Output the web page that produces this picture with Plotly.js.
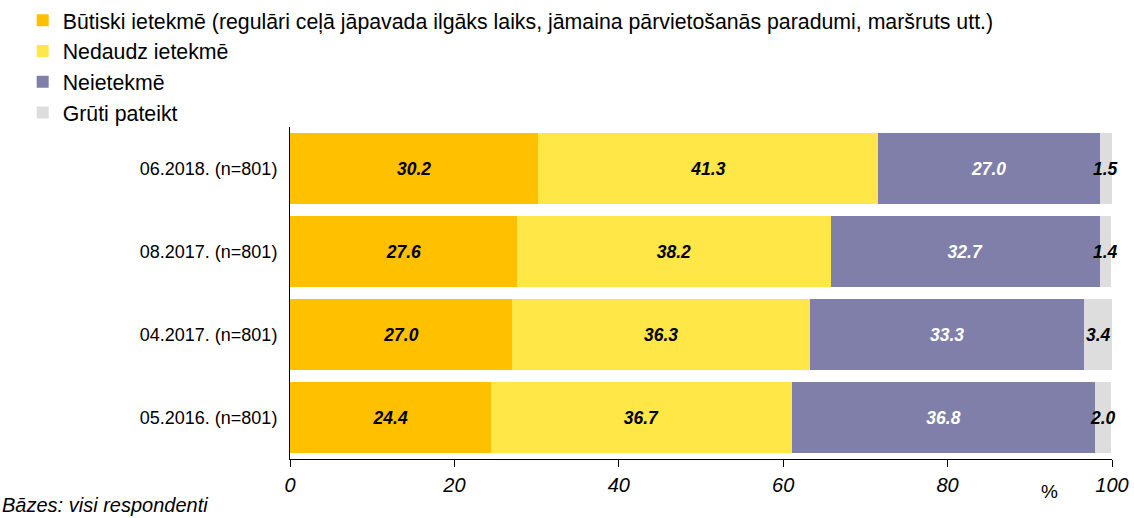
<!DOCTYPE html>
<html>
<head>
<meta charset="utf-8">
<script src="https://cdn.plot.ly/plotly-3.0.1.min.js"></script>
<style>html,body{margin:0;padding:0;background:#fff;}#chart{width:1134px;height:518px;}</style>
</head>
<body>
<div id="chart"></div>
<script>
const categories = ["06.2018. (n=801)", "08.2017. (n=801)", "04.2017. (n=801)", "05.2016. (n=801)"];
const seriesNames = ["Būtiski ietekmē (regulāri ceļā jāpavada ilgāks laiks, jāmaina pārvietošanās paradumi, maršruts utt.)", "Nedaudz ietekmē", "Neietekmē", "Grūti pateikt"];
const butiski = [30.2, 27.6, 27.0, 24.4];
const nedaudz = [41.3, 38.2, 36.3, 36.7];
const neietekme = [27.0, 32.7, 33.3, 36.8];
const gruti = [1.5, 1.4, 3.4, 2.0];
const xTicks = [0, 20, 40, 60, 80, 100];

const colors = ["#FFC000", "#FFE747", "#7F7FA9", "#DDDDDD"];
const textColors = ["#000000", "#000000", "#FFFFFF", "#000000"];
const allSeries = [butiski, nedaudz, neietekme, gruti];
const font = "Liberation Sans, Arial, sans-serif";

const traces = allSeries.map((vals, i) => ({
  type: "bar",
  orientation: "h",
  name: seriesNames[i],
  y: categories,
  x: vals,
  legendgroup: "g" + i,
  marker: {color: colors[i], line: {width: 0}},
  text: i < 3 ? vals.map(v => "<b><i>" + v.toFixed(1) + "</i></b>") : undefined,
  texttemplate: i < 3 ? "%{text}" : undefined,
  textposition: i < 3 ? "inside" : "none",
  insidetextanchor: "middle",
  constraintext: "none",
  textfont: {family: font, size: 17.5, color: textColors[i]},
  hoverinfo: "skip"
}));

const pw = 1134 - 290 - 22, ph = 518 - 127 - 59;
const annotations = categories.map((c, j) => {
  const start = butiski[j] + nedaudz[j] + neietekme[j];
  return {
    x: start + gruti[j] / 2, y: c, xref: "x", yref: "y",
    text: "<b><i>" + gruti[j].toFixed(1) + "</i></b>",
    showarrow: false, font: {family: font, size: 17.5, color: "#000"}
  };
});
annotations.push({
  x: (1049 - 290) / pw, y: (518 - 59 - 492) / ph, xref: "paper", yref: "paper",
  xanchor: "center", yanchor: "middle",
  text: "%", showarrow: false,
  font: {family: font, size: 19, color: "#000"}
});
annotations.push({
  text: "<i>Bāzes: visi respondenti</i>", showarrow: false,
  xref: "paper", yref: "paper", x: (0 - 290) / pw, y: (518 - 59 - 505) / ph,
  xanchor: "left", yanchor: "middle",
  font: {family: font, size: 20, color: "#000"}
});

const layout = {
  width: 1134, height: 518,
  margin: {l: 290, r: 22, t: 127, b: 59, autoexpand: false},
  paper_bgcolor: "#fff", plot_bgcolor: "#fff",
  barmode: "stack",
  bargap: 0.14,
  font: {family: font, size: 18, color: "#000"},
  showlegend: true,
  legend: {
    xref: "container", yref: "container",
    x: 0.02, y: 1.0, xanchor: "left", yanchor: "top",
    orientation: "v", traceorder: "normal",
    tracegroupgap: 5,
    font: {family: font, size: 21.3, color: "#000"},
    bgcolor: "rgba(0,0,0,0)"
  },
  xaxis: {
    range: [0, 100], tickvals: xTicks, ticktext: xTicks.map(v => "<i>" + v + "</i>"),
    showgrid: false, zeroline: false, showline: true, linecolor: "#000", linewidth: 1,
    ticks: "outside", ticklen: 7, tickcolor: "#000",
    ticklabelstandoff: 1,
    tickfont: {family: font, size: 20, color: "#000"},
    fixedrange: true
  },
  yaxis: {
    autorange: "reversed", showgrid: false, zeroline: false,
    showline: true, linecolor: "#000", linewidth: 1, ticks: "",
    ticklabelstandoff: 8,
    tickfont: {family: font, size: 18, color: "#000"},
    fixedrange: true
  },
  annotations: annotations
};

Plotly.newPlot("chart", traces, layout, {displayModeBar: false, staticPlot: true});
</script>
</body>
</html>
